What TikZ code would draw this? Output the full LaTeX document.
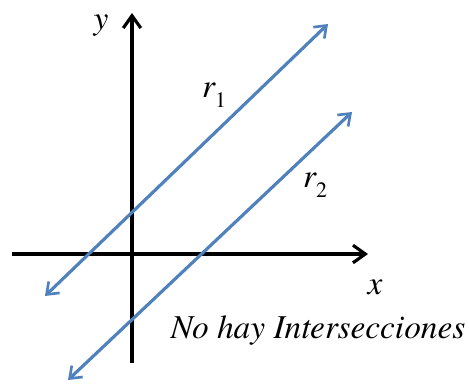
\documentclass[tikz,border=0pt]{standalone}
\usepackage{fontspec}
\setmainfont{texgyretermes}[Extension=.otf, UprightFont=*-regular, ItalicFont=*-italic]
\usetikzlibrary{arrows.meta}

\definecolor{lineblue}{RGB}{79,129,189}

\begin{document}
\begin{tikzpicture}[
  x=0.02cm, y=-0.02cm,
  axis/.style={draw=black, line width=2.2pt, -{Straight Barb[length=7pt, width=10pt, line width=1.8pt]}},
  recta/.style={draw=lineblue, line width=1.8pt, {Straight Barb[length=6pt, width=9pt, line width=1.5pt]}-{Straight Barb[length=6pt, width=9pt, line width=1.5pt]}},
  lbl/.style={font=\itshape\fontsize{19}{21}\selectfont, inner sep=0pt}
]
\useasboundingbox (0,0) rectangle (469,383);

% Axes
\coordinate (xa) at (12,254);
\coordinate (xb) at (368,254);
\coordinate (ya) at (132,363);
\coordinate (yb) at (132,13);
\draw[axis] (xa) -- (xb);
\draw[axis] (ya) -- (yb);

% Parallel lines
\coordinate (r1a) at (45,296);
\coordinate (r1b) at (328,24);
\coordinate (r2a) at (68,380);
\coordinate (r2b) at (352,112);
\draw[recta] (r1a) -- (r1b);
\draw[recta] (r2a) -- (r2b);

% Labels
\node[lbl] (ylab) at (101,26) {y};
\node[lbl] (xlab) at (375,287) {x};
\node[lbl] (r1lab) at (214,95) {r\raisebox{-6pt}{\upshape\fontsize{12.5}{13}\selectfont 1}};
\node[lbl] (r2lab) at (315,185) {r\raisebox{-6pt}{\upshape\fontsize{12.5}{13}\selectfont 2}};
\node[lbl] (nota) at (318,331) {No hay Intersecciones};

\end{tikzpicture}
\end{document}
